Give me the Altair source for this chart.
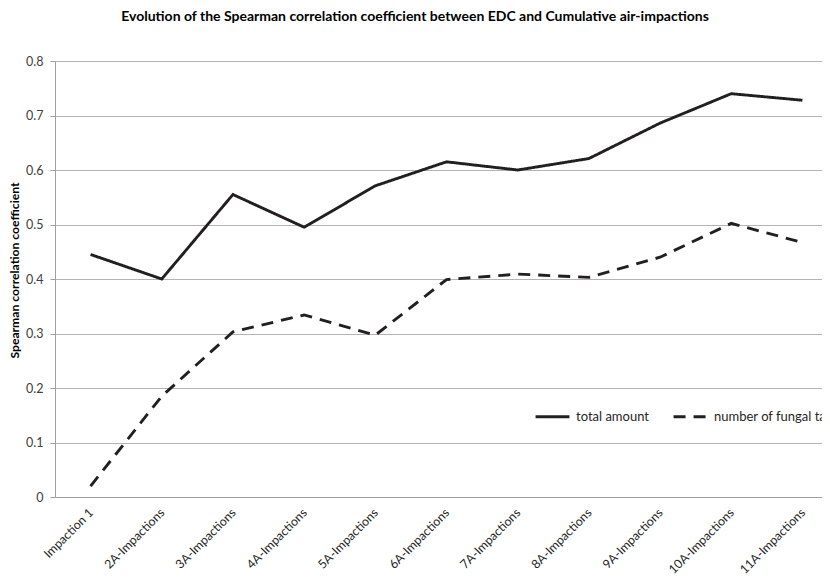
import altair as alt
import pandas as pd

categories = ["Impaction 1", "2A-Impactions", "3A-Impactions", "4A-Impactions",
              "5A-Impactions", "6A-Impactions", "7A-Impactions", "8A-Impactions",
              "9A-Impactions", "10A-Impactions", "11A-Impactions"]
total_amount = [0.445, 0.400, 0.555, 0.495, 0.571, 0.615, 0.600, 0.621, 0.686, 0.740, 0.728]
fungal_taxa = [0.020, 0.185, 0.303, 0.334, 0.297, 0.399, 0.409, 0.403, 0.440, 0.502, 0.467]
series_names = ["total amount", "number of fungal taxa"]
y_ticks = [0, 0.1, 0.2, 0.3, 0.4, 0.5, 0.6, 0.7, 0.8]

rows = []
for i, c in enumerate(categories):
    rows.append({"idx": i, "cat": c, "series": series_names[0], "value": total_amount[i]})
    rows.append({"idx": i, "cat": c, "series": series_names[1], "value": fungal_taxa[i]})
df = pd.DataFrame(rows)
bounds = pd.DataFrame({"b": [i - 0.5 for i in range(len(categories) + 1)]})

FONT = "Lato"
W, H = 767, 436
# the original plot is cut off at the right edge of the picture
x_max = len(categories) - 0.5 - 0.2247
label_js = "[" + ",".join("'" + c + "'" for c in categories) + "]"

x_scale = alt.Scale(domain=[-0.5, x_max], nice=False, zero=False)

lines = alt.Chart(df).mark_line(strokeWidth=2.9, color="#231f20").encode(
    x=alt.X("idx:Q", scale=x_scale,
            axis=alt.Axis(values=list(range(len(categories))), title=None, grid=False,
                          ticks=False, labelAngle=-45, labelFontSize=12.3, labelFont=FONT,
                          labelColor="#262626", labelPadding=9, labelOffset=-4,
                          labelExpr=label_js + "[datum.value]",
                          domainColor="#a0a0a0")),
    y=alt.Y("value:Q", scale=alt.Scale(domain=[0, 0.8], nice=False),
            axis=alt.Axis(values=y_ticks, title="Spearman correlation coefficient",
                          titleFont=FONT, titleFontSize=12.2, titleFontWeight="bold",
                          titleColor="#000000", titlePadding=4, titleY=209,
                          labelFont=FONT, labelFontSize=12.5, labelColor="#404040",
                          labelPadding=7,
                          labelExpr="datum.value == 0 ? '0' : format(datum.value, '.1f')",
                          gridColor="#b4b4b4", domainColor="#a0a0a0",
                          tickColor="#a0a0a0", tickSize=5)),
    strokeDash=alt.StrokeDash("series:N",
        scale=alt.Scale(domain=series_names, range=[[1, 0], [12, 8]]),
        legend=alt.Legend(title=None, orient="none", legendX=479, legendY=337,
                          direction="horizontal", symbolType="stroke",
                          symbolSize=1150, symbolStrokeWidth=3,
                          symbolStrokeColor="#231f20",
                          labelFont=FONT, labelFontSize=13, labelColor="#262626",
                          labelOffset=5, columnPadding=18, labelLimit=400)),
    detail="series:N",
)

ticks = alt.Chart(bounds).mark_rule(color="#a0a0a0", strokeWidth=1, clip=True).encode(
    x=alt.X("b:Q", scale=x_scale),
    y=alt.value(H),
    y2=alt.value(H + 5),
)

chart = alt.layer(lines, ticks).properties(
    width=W, height=H,
    autosize=alt.AutoSizeParams(type="none"),
    padding={"left": 47, "top": 53, "right": 0, "bottom": 80},
    title=alt.TitleParams(
        "Evolution of the Spearman correlation coefficient between EDC and Cumulative air-impactions",
        font=FONT, fontSize=14, fontWeight="bold", color="#000000",
        anchor="middle", frame="group", dx=415 - (55 + W / 2), offset=31),
).configure_view(stroke=None).configure(background="white")

chart.save("out.html", embed_options={"renderer": "svg", "actions": False})
